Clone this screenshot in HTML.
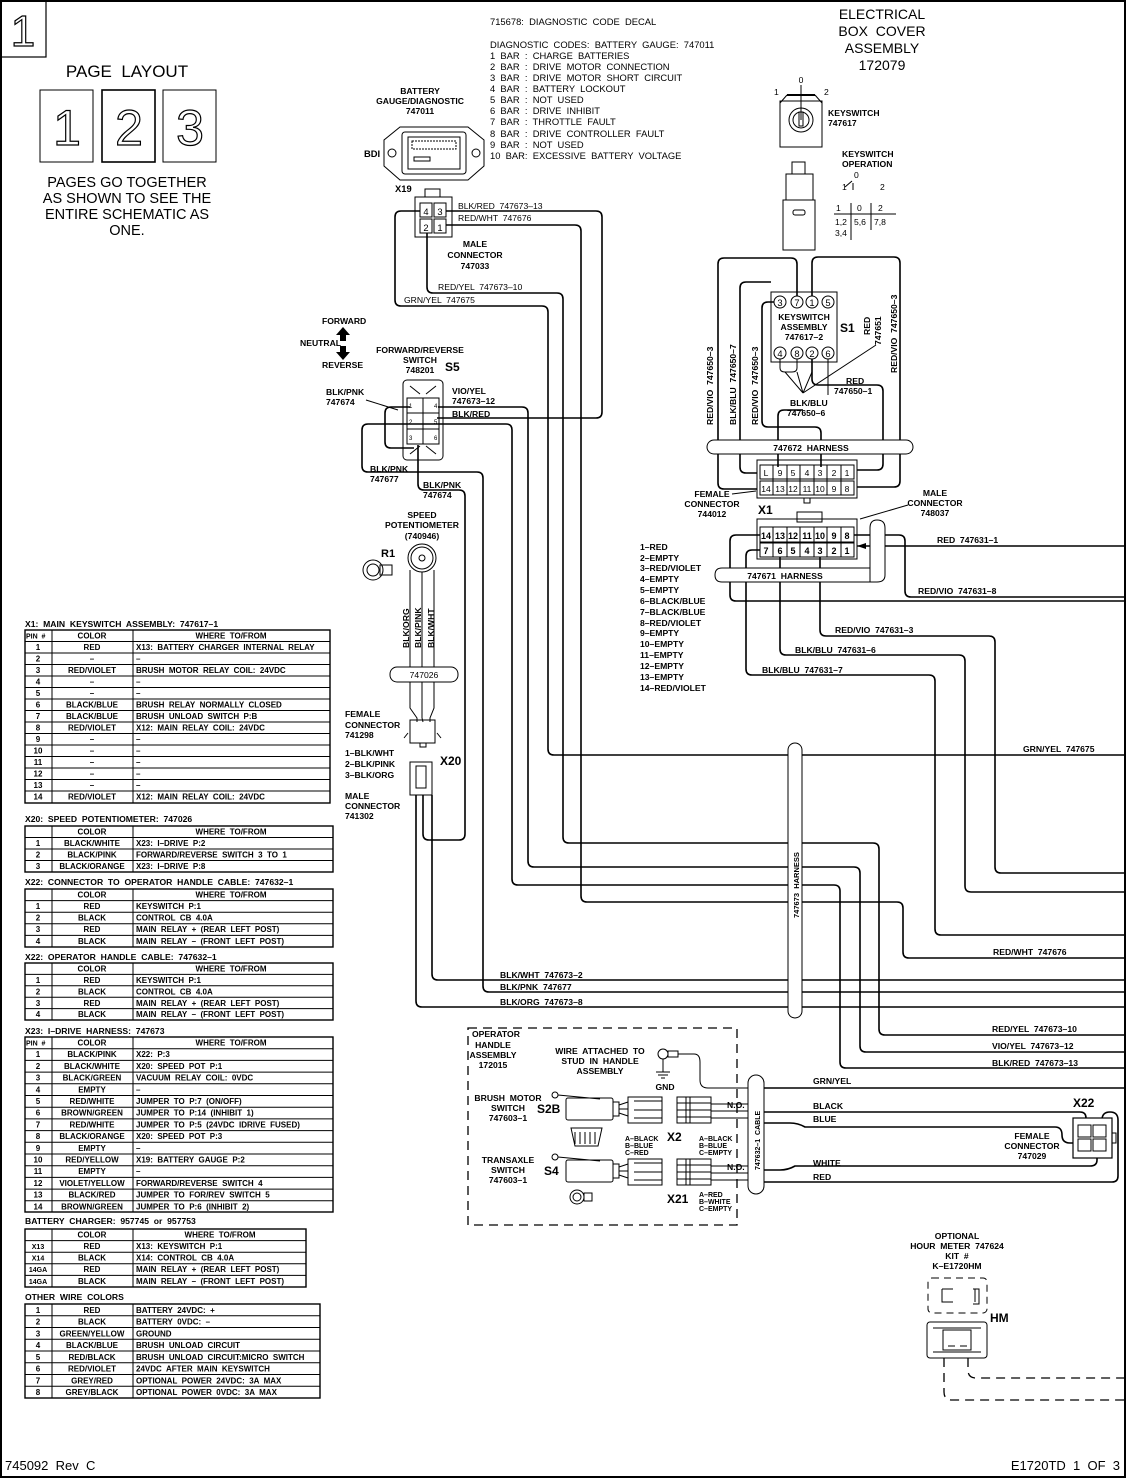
<!DOCTYPE html>
<html><head><meta charset="utf-8"><style>
html,body{margin:0;padding:0;background:#fff}
svg{display:block}
text{font-family:"Liberation Sans",sans-serif;fill:#000;white-space:pre}
.s{font-size:8.6px}
.m{font-size:9.4px}
.b{font-weight:bold}
.c{text-anchor:middle}
.w{fill:none;stroke:#000;stroke-width:1.6;stroke-linejoin:round}
.n{fill:none;stroke:#000;stroke-width:1}
.d{fill:none;stroke:#000;stroke-width:1.3;stroke-dasharray:9 6}
</style></head><body>
<svg width="1127" height="1479" viewBox="0 0 1127 1479" xmlns="http://www.w3.org/2000/svg" xml:space="preserve">
<rect x="1" y="1" width="1124" height="1476" fill="none" stroke="#000" stroke-width="2"/>
<rect x="1" y="1" width="45" height="56" fill="none" stroke="#000" stroke-width="1.2"/>
<text x="23" y="46" class="c" style="font-size:44px;fill:#fff;stroke:#000;stroke-width:1.2">1</text>

<!-- page layout -->
<text x="127" y="77" class="c" style="font-size:17px">PAGE  LAYOUT</text>
<rect x="40" y="90" width="53" height="72" class="n"/>
<rect x="102" y="90" width="53" height="72" fill="none" stroke="#000" stroke-width="1.6"/>
<rect x="163" y="90" width="53" height="72" class="n"/>
<g style="font-size:50px;fill:#fff;stroke:#000;stroke-width:1.2">
<text x="67" y="145" class="c" style="fill:#fff">1</text>
<text x="129" y="145" class="c" style="fill:#fff">2</text>
<text x="190" y="145" class="c" style="fill:#fff">3</text></g>
<g style="font-size:14.5px" class="c">
<text x="127" y="187" class="c">PAGES GO TOGETHER</text>
<text x="127" y="203" class="c">AS SHOWN TO SEE THE</text>
<text x="127" y="219" class="c">ENTIRE SCHEMATIC AS</text>
<text x="127" y="235" class="c">ONE.</text></g>

<!-- diagnostic codes -->
<g class="m">
<text x="490" y="25" class="m">715678:  DIAGNOSTIC  CODE  DECAL</text>
<text x="490" y="48" class="m">DIAGNOSTIC  CODES:  BATTERY  GAUGE:  747011</text>
<text x="490" y="59" class="m">1  BAR  :  CHARGE  BATTERIES</text>
<text x="490" y="70" class="m">2  BAR  :  DRIVE  MOTOR  CONNECTION</text>
<text x="490" y="81" class="m">3  BAR  :  DRIVE  MOTOR  SHORT  CIRCUIT</text>
<text x="490" y="92" class="m">4  BAR  :  BATTERY  LOCKOUT</text>
<text x="490" y="103" class="m">5  BAR  :  NOT  USED</text>
<text x="490" y="114" class="m">6  BAR  :  DRIVE  INHIBIT</text>
<text x="490" y="125" class="m">7  BAR  :  THROTTLE  FAULT</text>
<text x="490" y="137" class="m">8  BAR  :  DRIVE  CONTROLLER  FAULT</text>
<text x="490" y="148" class="m">9  BAR  :  NOT  USED</text>
<text x="490" y="159" class="m">10  BAR:  EXCESSIVE  BATTERY  VOLTAGE</text></g>

<!-- electrical box -->
<g style="font-size:14px">
<text x="882" y="19" class="c">ELECTRICAL</text>
<text x="882" y="36" class="c">BOX  COVER</text>
<text x="882" y="53" class="c">ASSEMBLY</text>
<text x="882" y="70" class="c">172079</text></g>

<!-- battery gauge -->
<text x="420" y="94" class="s c b">BATTERY</text>
<text x="420" y="104" class="s c b">GAUGE/DIAGNOSTIC</text>
<text x="420" y="114" class="s c b">747011</text>
<path d="M400,127 H468 L484,140 V166 L468,180 H400 L384,166 V140 Z" class="n" stroke-width="1.5"/>
<circle cx="392" cy="153" r="4" class="n"/><circle cx="476" cy="153" r="4" class="n"/>
<rect x="402" y="132" width="64" height="42" rx="3" class="n"/>
<rect x="408" y="137" width="52" height="32" class="n"/>
<rect x="412" y="141" width="44" height="8" class="n" stroke-dasharray="2 1"/>
<rect x="414" y="157" width="16" height="4" class="n"/>
<text x="364" y="157" class="m b">BDI</text>

<!-- keyswitch -->
<rect x="780" y="101" width="42" height="46" class="n"/>
<path d="M787,95 H815" stroke="#000" stroke-width="2"/>
<path d="M801,85 V120 M787,95 L780,103 M815,95 L822,103" class="n"/>
<circle cx="801" cy="120" r="12" class="n"/><circle cx="801" cy="120" r="8" class="n"/>
<rect x="799" y="112" width="4" height="14" class="n"/>
<text x="801" y="83" class="s c">0</text><text x="774" y="95" class="s">1</text><text x="824" y="95" class="s">2</text>
<text x="828" y="116" class="s b">KEYSWITCH</text><text x="828" y="126" class="s b">747617</text>
<rect x="792" y="162" width="13" height="12" class="n"/>
<rect x="786" y="174" width="27" height="26" class="n"/>
<rect x="783" y="200" width="32" height="50" class="n"/>
<rect x="793" y="210" width="12" height="5" rx="2" class="n"/>
<text x="842" y="157" class="s b">KEYSWITCH</text><text x="842" y="167" class="s b">OPERATION</text>
<text x="854" y="178" class="s">0</text><text x="842" y="190" class="s">1</text><text x="880" y="190" class="s">2</text>
<path d="M845,187 L852,181 M853,183 V190" class="n"/>
<text x="836" y="211" class="s">1</text><text x="857" y="211" class="s">0</text><text x="878" y="211" class="s">2</text>
<path d="M834,214 H896 M851,203 V240 M871,203 V230" class="n"/>
<text x="835" y="225" class="s">1,2</text><text x="854" y="225" class="s">5,6</text><text x="874" y="225" class="s">7,8</text>
<text x="835" y="236" class="s">3,4</text>

<!-- X19 -->
<text x="395" y="192" class="m b">X19</text>
<rect x="425" y="189" width="15" height="8" class="n"/>
<rect x="415" y="197" width="37" height="40" class="n" stroke-width="1.4"/>
<rect x="420" y="203" width="12" height="14" class="n"/><rect x="434" y="203" width="12" height="14" class="n"/>
<rect x="420" y="219" width="12" height="14" class="n"/><rect x="434" y="219" width="12" height="14" class="n"/>
<text x="426" y="215" class="m c">4</text><text x="440" y="215" class="m c">3</text>
<text x="426" y="231" class="m c">2</text><text x="440" y="231" class="m c">1</text>
<text x="458" y="209" class="s">BLK/RED  747673–13</text>
<text x="458" y="221" class="s">RED/WHT  747676</text>
<text x="475" y="247" class="s c b">MALE</text><text x="475" y="258" class="s c b">CONNECTOR</text><text x="475" y="269" class="s c b">747033</text>
<text x="438" y="290" class="s">RED/YEL  747673–10</text>
<text x="404" y="303" class="s">GRN/YEL  747675</text>

<!-- wires from X19 / S5 -->
<path class="w" d="M446,211 H596 Q602,211 602,217 V412 Q602,418 596,418 H437"/>
<path class="w" d="M446,225 H575 Q581,225 581,231 V896 Q581,902 587,902 H897 Q903,902 903,908 V952 Q903,958 909,958 H1125"/>
<path class="w" d="M420,211 H401 Q395,211 395,217 V300 Q395,306 401,306 H542 Q548,306 548,312 V749 Q548,755 554,755 H1125"/>
<path class="w" d="M427,233 V287 Q427,293 433,293 H557 Q563,293 563,299 V837 Q563,843 569,843 H873 Q879,843 879,849 V1029 Q879,1035 885,1035 H1125"/>
<path class="w" d="M438,407 H522 Q528,407 528,413 V861 Q528,867 534,867 H854 Q860,867 860,873 V1046 Q860,1052 866,1052 H1125"/>
<path class="w" d="M410,407 H391 Q385,407 385,413 V442 Q385,448 391,448 H414"/>
<path class="w" d="M362,466 V430 Q362,424 368,424 H506 Q512,424 512,430 V879 Q512,885 518,885 H834 Q840,885 840,891 V1062 Q840,1068 846,1068 H1125"/>
<path class="w" d="M362,466 Q362,472 368,472 H477 Q483,472 483,478 V986 Q483,992 489,992 H1125"/>
<path class="w" d="M418,445 V484 Q418,490 424,490 H459 Q465,490 465,496 V834 Q465,840 459,840 H429 Q423,840 423,834 V795"/>
<path class="w" d="M432,795 V974 Q432,980 438,980 H1125"/>
<path class="w" d="M416,795 V1001 Q416,1007 422,1007 H1125"/>

<!-- forward reverse -->
<text x="322" y="324" class="s b">FORWARD</text>
<text x="300" y="346" class="s b">NEUTRAL</text>
<text x="322" y="368" class="s b">REVERSE</text>
<path d="M343,327 L350,335 H346 V341 H340 V335 H336 Z M343,360 L350,352 H346 V346 H340 V352 H336 Z" fill="#000"/>
<text x="420" y="353" class="s c b">FORWARD/REVERSE</text>
<text x="420" y="363" class="s c b">SWITCH</text>
<text x="420" y="373" class="s c b">748201</text>
<text x="445" y="371" style="font-size:12px" class="b">S5</text>
<rect x="403" y="380" width="40" height="80" rx="4" class="n" stroke-width="1.3"/>
<path d="M410,386 L420,394 M436,386 L426,394 M410,454 L420,446 M436,454 L426,446" class="n"/>
<rect x="407" y="398" width="32" height="46" class="n"/>
<path d="M423,398 V444 M407,413 H439 M407,429 H439" class="n" stroke-width="1.5"/>
<text x="409" y="408" style="font-size:6px">1</text><text x="434" y="408" style="font-size:6px">4</text>
<text x="409" y="424" style="font-size:6px">2</text><text x="434" y="424" style="font-size:6px">5</text>
<text x="409" y="440" style="font-size:6px">3</text><text x="434" y="440" style="font-size:6px">6</text>
<text x="326" y="395" class="s b">BLK/PNK</text><text x="326" y="405" class="s b">747674</text>
<path d="M366,400 L398,410" class="n"/>
<text x="452" y="394" class="s b">VIO/YEL</text><text x="452" y="404" class="s b">747673–12</text>
<text x="452" y="417" class="s b">BLK/RED</text>
<text x="370" y="472" class="s b">BLK/PNK</text><text x="370" y="482" class="s b">747677</text>
<text x="423" y="488" class="s b">BLK/PNK</text><text x="423" y="498" class="s b">747674</text>

<!-- potentiometer -->
<text x="422" y="518" class="s c b">SPEED</text>
<text x="422" y="528" class="s c b">POTENTIOMETER</text>
<text x="422" y="539" class="s c b">(740946)</text>
<text x="381" y="557" style="font-size:11px" class="b">R1</text>
<circle cx="422" cy="558" r="14" class="n" stroke-width="1.3"/><circle cx="422" cy="558" r="11" class="n"/>
<circle cx="422" cy="558" r="3" class="n"/>
<circle cx="373" cy="570" r="10" class="n"/><circle cx="373" cy="570" r="6" class="n"/>
<rect x="380" y="565" width="12" height="10" class="n"/>
<path class="n" stroke-width="1.3" d="M410,570 V708 L417,718 V722 M422,572 V718 L423,722 M434,570 V708 L430,718 V722"/>
<g class="s b">
<text transform="translate(409,648) rotate(-90)">BLK/ORG</text>
<text transform="translate(421,648) rotate(-90)">BLK/PINK</text>
<text transform="translate(434,648) rotate(-90)">BLK/WHT</text></g>
<rect x="390" y="667" width="68" height="15" rx="7" fill="#fff" stroke="#000"/>
<text x="424" y="678" class="s c">747026</text>
<rect x="410" y="720" width="25" height="23" class="n" stroke-width="1.3"/>
<rect x="420" y="743" width="6" height="4" class="n"/>
<path d="M408,733 L404,738 M437,733 L441,738" class="n"/>
<rect x="410" y="762" width="22" height="33" class="n" stroke-width="1.3"/>
<rect x="416" y="766" width="10" height="22" class="n"/>
<text x="440" y="765" style="font-size:12px" class="b">X20</text>
<g class="s b">
<text x="345" y="717">FEMALE</text><text x="345" y="728">CONNECTOR</text><text x="345" y="738">741298</text>
<text x="345" y="756">1–BLK/WHT</text><text x="345" y="767">2–BLK/PINK</text><text x="345" y="778">3–BLK/ORG</text>
<text x="345" y="799">MALE</text><text x="345" y="809">CONNECTOR</text><text x="345" y="819">741302</text></g>

<!-- keyswitch assembly S1 -->
<rect x="771" y="292" width="66" height="70" class="n" stroke-width="1.3"/>
<g class="n"><circle cx="780" cy="302" r="6"/><circle cx="797" cy="302" r="6"/><circle cx="812" cy="302" r="6"/><circle cx="828" cy="302" r="6"/>
<circle cx="780" cy="353" r="6"/><circle cx="797" cy="353" r="6"/><circle cx="812" cy="353" r="6"/><circle cx="828" cy="353" r="6"/></g>
<g class="m"><text x="780" y="306" class="c">3</text><text x="797" y="306" class="c">7</text><text x="812" y="306" class="c">1</text><text x="828" y="306" class="c">5</text>
<text x="780" y="357" class="c">4</text><text x="797" y="357" class="c">8</text><text x="812" y="357" class="c">2</text><text x="828" y="357" class="c">6</text></g>
<text x="804" y="320" class="s c b">KEYSWITCH</text><text x="804" y="330" class="s c b">ASSEMBLY</text><text x="804" y="340" class="s c b">747617–2</text>
<text x="840" y="332" style="font-size:12px" class="b">S1</text>
<path class="w" stroke-width="1.3" d="M757,489 H724 Q718,489 718,483 V264 Q718,258 724,258 H791 Q797,258 797,264 V296"/>
<path class="w" stroke-width="1.3" d="M757,473 H746 Q740,473 740,467 V288 Q740,282 746,282 H771"/>
<path class="w" stroke-width="1.3" d="M812,296 V263 Q812,257 818,257 H894 Q900,257 900,263 V481 Q900,487 894,487 H857"/>
<path class="w" stroke-width="1.3" d="M774,302 H768 Q762,302 762,308 V421 Q762,427 768,427 H815 Q821,427 821,433 V467"/>
<path class="w" stroke-width="1.3" d="M812,359 V379 Q812,385 818,385 H877 Q883,385 883,391 V464 Q883,470 877,470 H857"/>
<path class="w" stroke-width="1.3" d="M778,467 V416 Q778,410 784,410 H803"/>
<path class="n" d="M780,359 V368 Q780,372 785,372 H792 Q797,372 797,368 V359 M803,393 L785,372 M803,393 L797,372 M803,393 L876,345 M828,359 V395 M812,372 L803,393"/>
<g class="s b">
<text transform="translate(713,425) rotate(-90)">RED/VIO  747650–3</text>
<text transform="translate(736,425) rotate(-90)">BLK/BLU  747650–7</text>
<text transform="translate(758,425) rotate(-90)">RED/VIO  747650–3</text>
<text transform="translate(897,373) rotate(-90)">RED/VIO  747650–3</text>
<text transform="translate(870,335) rotate(-90)">RED</text>
<text transform="translate(881,345) rotate(-90)">747651</text>
<text x="846" y="384">RED</text><text x="834" y="394">747650–1</text>
<text x="790" y="406">BLK/BLU</text><text x="787" y="416">747650–6</text></g>
<rect x="707" y="440" width="206" height="14" rx="7" fill="#fff" stroke="#000"/>
<text x="811" y="451" class="s c b">747672  HARNESS</text>
<!-- female connector 744012 -->
<rect x="757" y="460" width="100" height="38" class="n" stroke-width="1.3"/>
<g class="n">
<rect x="760" y="465" width="94" height="14"/><rect x="760" y="481" width="94" height="14"/>
<path d="M773,465 V495 M787,465 V495 M800,465 V495 M814,465 V495 M827,465 V495 M841,465 V495"/>
<rect x="804" y="498" width="6" height="5"/></g>
<g style="font-size:8.5px">
<text x="766" y="476" class="c">L</text><text x="780" y="476" class="c">9</text><text x="793" y="476" class="c">5</text><text x="807" y="476" class="c">4</text><text x="820" y="476" class="c">3</text><text x="834" y="476" class="c">2</text><text x="847" y="476" class="c">1</text>
<text x="766" y="492" class="c">14</text><text x="780" y="492" class="c">13</text><text x="793" y="492" class="c">12</text><text x="807" y="492" class="c">11</text><text x="820" y="492" class="c">10</text><text x="834" y="492" class="c">9</text><text x="847" y="492" class="c">8</text></g>
<text x="712" y="497" class="s c b">FEMALE</text><text x="712" y="507" class="s c b">CONNECTOR</text><text x="712" y="517" class="s c b">744012</text>
<path d="M732,494 L756,491" class="n"/>
<text x="758" y="514" style="font-size:12px" class="b">X1</text>
<text x="935" y="496" class="s c b">MALE</text><text x="935" y="506" class="s c b">CONNECTOR</text><text x="935" y="516" class="s c b">748037</text>
<path d="M908,505 L860,519" class="n"/>

<!-- X1 male -->
<rect x="797" y="512" width="25" height="10" class="n"/>
<rect x="757" y="519" width="100" height="40" class="n" stroke-width="1.3"/>
<g class="n"><rect x="760" y="527" width="94" height="15"/><rect x="760" y="543" width="94" height="14"/>
<path d="M773,527 V557 M787,527 V557 M800,527 V557 M814,527 V557 M827,527 V557 M841,527 V557"/></g>
<g style="font-size:9px" class="b">
<text x="766" y="539" class="c">14</text><text x="780" y="539" class="c">13</text><text x="793" y="539" class="c">12</text><text x="807" y="539" class="c">11</text><text x="820" y="539" class="c">10</text><text x="834" y="539" class="c">9</text><text x="847" y="539" class="c">8</text>
<text x="766" y="554" class="c">7</text><text x="780" y="554" class="c">6</text><text x="793" y="554" class="c">5</text><text x="807" y="554" class="c">4</text><text x="820" y="554" class="c">3</text><text x="834" y="554" class="c">2</text><text x="847" y="554" class="c">1</text></g>
<path class="w" d="M1125,546 H857"/>
<path class="w" d="M854,535 H899 Q905,535 905,541 V591 Q905,597 911,597 H1125"/>
<path class="w" d="M760,535 H736 Q730,535 730,541 V595 Q730,601 736,601 H1125"/>
<path class="w" d="M760,550 H752 Q746,550 746,556 V669 Q746,675 752,675 H929 Q935,675 935,681 V929 Q935,935 941,935 H1125"/>
<path class="w" d="M780,557 V649 Q780,655 786,655 H959 Q965,655 965,661 V886 Q965,892 971,892 H1125"/>
<path class="w" d="M820,557 V630 Q820,636 826,636 H989 Q995,636 995,642 V867 Q995,873 1001,873 H1125"/>
<path d="M857,546 L866,543 V549 Z" fill="#000"/>
<path d="M870,582 V528 Q870,520 877,520 Q885,520 885,528 V575 Q885,582 877,582 H722 Q715,582 715,575 Q715,568 722,568 H870" fill="#fff" stroke="#000"/>
<text x="785" y="579" class="s c b">747671  HARNESS</text>
<g class="s b">
<text x="640" y="550">1–RED</text><text x="640" y="561">2–EMPTY</text><text x="640" y="571">3–RED/VIOLET</text><text x="640" y="582">4–EMPTY</text><text x="640" y="593">5–EMPTY</text><text x="640" y="604">6–BLACK/BLUE</text><text x="640" y="615">7–BLACK/BLUE</text><text x="640" y="626">8–RED/VIOLET</text><text x="640" y="636">9–EMPTY</text><text x="640" y="647">10–EMPTY</text><text x="640" y="658">11–EMPTY</text><text x="640" y="669">12–EMPTY</text><text x="640" y="680">13–EMPTY</text><text x="640" y="691">14–RED/VIOLET</text>
<text x="937" y="543">RED  747631–1</text>
<text x="918" y="594">RED/VIO  747631–8</text>
<text x="835" y="633">RED/VIO  747631–3</text>
<text x="795" y="653">BLK/BLU  747631–6</text>
<text x="762" y="673">BLK/BLU  747631–7</text>
<text x="1023" y="752">GRN/YEL  747675</text>
<text x="993" y="955">RED/WHT  747676</text>
<text x="500" y="978">BLK/WHT  747673–2</text>
<text x="500" y="990">BLK/PNK  747677</text>
<text x="500" y="1005">BLK/ORG  747673–8</text>
<text x="992" y="1032">RED/YEL  747673–10</text>
<text x="992" y="1049">VIO/YEL  747673–12</text>
<text x="992" y="1066">BLK/RED  747673–13</text></g>
<rect x="788" y="743" width="14" height="275" rx="7" fill="#fff" stroke="#000"/>
<text transform="translate(799,918) rotate(-90)" style="font-size:7.5px" class="b">747673  HARNESS</text>

<!-- operator handle -->
<rect x="468" y="1028" width="269" height="197" class="d"/>
<g class="s b">
<text x="472" y="1037">OPERATOR</text><text x="493" y="1048" class="c">HANDLE</text><text x="493" y="1058" class="c">ASSEMBLY</text><text x="493" y="1068" class="c">172015</text>
<text x="600" y="1054" class="c">WIRE  ATTACHED  TO</text><text x="600" y="1064" class="c">STUD  IN  HANDLE</text><text x="600" y="1074" class="c">ASSEMBLY</text>
<text x="665" y="1090" class="c">GND</text>
<text x="508" y="1101" class="c">BRUSH  MOTOR</text><text x="508" y="1111" class="c">SWITCH</text><text x="508" y="1121" class="c">747603–1</text>
<text x="508" y="1163" class="c">TRANSAXLE</text><text x="508" y="1173" class="c">SWITCH</text><text x="508" y="1183" class="c">747603–1</text>
<text x="625" y="1141" style="font-size:7px">A–BLACK</text><text x="625" y="1148" style="font-size:7px">B–BLUE</text><text x="625" y="1155" style="font-size:7px">C–RED</text>
<text x="699" y="1141" style="font-size:7px">A–BLACK</text><text x="699" y="1148" style="font-size:7px">B–BLUE</text><text x="699" y="1155" style="font-size:7px">C–EMPTY</text>
<text x="699" y="1197" style="font-size:7px">A–RED</text><text x="699" y="1204" style="font-size:7px">B–WHITE</text><text x="699" y="1211" style="font-size:7px">C–EMPTY</text>
<text x="727" y="1108">N.O.</text><text x="727" y="1170">N.O.</text></g>
<text x="537" y="1113" style="font-size:12px" class="b">S2B</text>
<text x="544" y="1175" style="font-size:12px" class="b">S4</text>
<text x="667" y="1141" style="font-size:12px" class="b">X2</text>
<text x="667" y="1203" style="font-size:12px" class="b">X21</text>
<circle cx="663" cy="1054" r="5" class="n"/><rect x="668" y="1051" width="10" height="6" class="n"/>
<path class="n" d="M663,1059 V1072 M656,1072 H670 M658,1075 H668 M661,1078 H665 M678,1054 H694 Q700,1054 700,1062 V1080 Q700,1088 708,1088 H750"/>
<!-- switches -->
<g class="n" stroke-width="1.2">
<rect x="566" y="1098" width="47" height="22" rx="2"/><circle cx="555" cy="1095" r="3"/><path d="M558,1095 L600,1099"/>
<rect x="613" y="1102" width="6" height="14"/><path d="M619,1105 L628,1102 M619,1109 L628,1109 M619,1113 L628,1116"/>
<rect x="628" y="1097" width="34" height="26"/><path d="M634,1101 H662 M634,1110 H662 M634,1118 H662"/>
<rect x="677" y="1097" width="34" height="26"/><path d="M677,1103 H711 M677,1110 H711 M677,1117 H711 M686,1097 V1123 M690,1097 V1123"/>
<path d="M711,1104 H760 M711,1111 H760 M711,1118 H750"/>
<path d="M571,1128 H602 L598,1146 H575 Z M575,1132 V1144 M580,1132 V1144 M585,1132 V1144 M590,1132 V1144 M595,1132 V1144"/>
<rect x="566" y="1160" width="47" height="22" rx="2"/><circle cx="555" cy="1157" r="3"/><path d="M558,1157 L600,1161"/>
<rect x="613" y="1164" width="6" height="14"/><path d="M619,1167 L628,1164 M619,1171 L628,1171 M619,1175 L628,1178"/>
<rect x="628" y="1159" width="34" height="26"/><path d="M634,1163 H662 M634,1172 H662 M634,1180 H662"/>
<rect x="677" y="1159" width="34" height="26"/><path d="M677,1165 H711 M677,1172 H711 M677,1179 H711 M686,1159 V1185 M690,1159 V1185"/>
<path d="M711,1166 H760 M711,1173 H760 M711,1180 H750"/>
<circle cx="577" cy="1197" r="7"/><circle cx="577" cy="1197" r="4"/><rect x="584" y="1193" width="8" height="8"/></g>
<rect x="748" y="1075" width="16" height="119" rx="8" fill="#fff" stroke="#000"/>
<text transform="translate(760,1170) rotate(-90)" style="font-size:7px" class="b">747632–1  CABLE</text>
<!-- right cable wires -->
<path class="w" stroke-width="1.2" d="M764,1088 H1125"/>
<path class="w" stroke-width="1.2" d="M764,1112 H1080 Q1086,1112 1086,1118 V1127"/>
<path class="w" stroke-width="1.2" d="M764,1123 H790 Q798,1123 805,1127 H1055 Q1062,1127 1062,1135 Q1062,1143 1070,1143 H1080"/>
<path class="w" stroke-width="1.2" d="M764,1170 H780 Q788,1170 795,1166 H1090 Q1097,1166 1097,1160 V1150"/>
<path class="w" stroke-width="1.2" d="M764,1182 H1112 Q1118,1182 1118,1176 V1120 Q1118,1112 1110,1112 Q1102,1112 1102,1120"/>
<g class="s b"><text x="813" y="1084">GRN/YEL</text><text x="813" y="1109">BLACK</text><text x="813" y="1122">BLUE</text><text x="813" y="1166">WHITE</text><text x="813" y="1180">RED</text>
<text x="1032" y="1139" class="c">FEMALE</text><text x="1032" y="1149" class="c">CONNECTOR</text><text x="1032" y="1159" class="c">747029</text></g>
<text x="1073" y="1107" style="font-size:12px" class="b">X22</text>
<rect x="1073" y="1118" width="39" height="40" fill="#fff" stroke="#000" stroke-width="1.2"/>
<g class="n"><rect x="1078" y="1125" width="13" height="12"/><rect x="1093" y="1125" width="13" height="12"/><rect x="1078" y="1139" width="13" height="12"/><rect x="1093" y="1139" width="13" height="12"/><rect x="1112" y="1133" width="4" height="10"/></g>

<!-- hour meter -->
<g class="s b"><text x="957" y="1239" class="c">OPTIONAL</text><text x="957" y="1249" class="c">HOUR  METER  747624</text><text x="957" y="1259" class="c">KIT  #</text><text x="957" y="1269" class="c">K–E1720HM</text></g>
<rect x="928" y="1278" width="59" height="35" rx="4" fill="none" stroke="#000" stroke-dasharray="7 5"/>
<path class="n" stroke-width="1.5" d="M942,1289 V1302 H953 M942,1289 H953 M973,1289 H979 V1304 H973 M975,1289 V1302"/>
<text x="990" y="1322" style="font-size:12px" class="b">HM</text>
<rect x="927" y="1322" width="60" height="36" rx="3" class="n" stroke-width="1.3"/>
<path class="n" d="M933,1328 H981 M933,1352 H981 M943,1330 H971 V1350 H943 Z M948,1346 H955 M960,1346 H967"/>
<path class="d" d="M944,1358 V1392 Q944,1400 952,1400 H1125 M968,1358 V1370 Q968,1378 976,1378 H1125"/>

<!-- tables -->
<g class="s b">
<text x="25" y="627">X1:  MAIN  KEYSWITCH  ASSEMBLY:  747617–1</text>
<text x="25" y="822">X20:  SPEED  POTENTIOMETER:  747026</text>
<text x="25" y="885">X22:  CONNECTOR  TO  OPERATOR  HANDLE  CABLE:  747632–1</text>
<text x="25" y="960">X22:  OPERATOR  HANDLE  CABLE:  747632–1</text>
<text x="25" y="1034">X23:  I–DRIVE  HARNESS:  747673</text>
<text x="25" y="1224">BATTERY  CHARGER:  957745  or  957753</text>
<text x="25" y="1300">OTHER  WIRE  COLORS</text></g>

<g fill="none" stroke="#000" stroke-width="1">
<rect x="25" y="630" width="305" height="173" stroke-width="1.4"/>
<path d="M52,630 V803 M133,630 V803 M25,641.5 H330 M25,653 H330 M25,664.5 H330 M25,676 H330 M25,687.5 H330 M25,699 H330 M25,710.5 H330 M25,722 H330 M25,733.5 H330 M25,745 H330 M25,756.5 H330 M25,768 H330 M25,779.5 H330 M25,791 H330"/>
<rect x="25" y="826" width="308" height="46" stroke-width="1.4"/>
<path d="M52,826 V872 M133,826 V872 M25,837.5 H333 M25,849 H333 M25,860.5 H333"/>
<rect x="25" y="889" width="308" height="58" stroke-width="1.4"/>
<path d="M52,889 V947 M133,889 V947 M25,900.6 H333 M25,912.2 H333 M25,923.8 H333 M25,935.4 H333"/>
<rect x="25" y="963" width="308" height="57" stroke-width="1.4"/>
<path d="M52,963 V1020 M133,963 V1020 M25,974.4 H333 M25,985.8 H333 M25,997.2 H333 M25,1008.6 H333"/>
<rect x="25" y="1037" width="308" height="175" stroke-width="1.4"/>
<path d="M52,1037 V1212 M133,1037 V1212 M25,1048.7 H333 M25,1060.4 H333 M25,1072.1 H333 M25,1083.8 H333 M25,1095.5 H333 M25,1107.2 H333 M25,1118.9 H333 M25,1130.6 H333 M25,1142.3 H333 M25,1154 H333 M25,1165.7 H333 M25,1177.4 H333 M25,1189.1 H333 M25,1200.8 H333"/>
<rect x="25" y="1229" width="281" height="58" stroke-width="1.4"/>
<path d="M52,1229 V1287 M133,1229 V1287 M25,1240.6 H306 M25,1252.2 H306 M25,1263.8 H306 M25,1275.4 H306"/>
<rect x="25" y="1304" width="295" height="94" stroke-width="1.4"/>
<path d="M52,1304 V1398 M133,1304 V1398 M25,1315.7 H320 M25,1327.5 H320 M25,1339.2 H320 M25,1351 H320 M25,1362.7 H320 M25,1374.5 H320 M25,1386.2 H320"/>
</g>

<g style="font-size:8px" class="b">
<text x="26" y="638.5" style="font-size:7px">PIN  #</text><text x="92" y="638.5" class="c">COLOR</text><text x="231" y="638.5" class="c">WHERE  TO/FROM</text>
<text x="38" y="650" class="c">1</text><text x="92" y="650" class="c">RED</text><text x="136" y="650">X13:  BATTERY  CHARGER  INTERNAL  RELAY</text>
<text x="38" y="661.5" class="c">2</text><text x="92" y="661.5" class="c">–</text><text x="136" y="661.5">–</text>
<text x="38" y="673" class="c">3</text><text x="92" y="673" class="c">RED/VIOLET</text><text x="136" y="673">BRUSH  MOTOR  RELAY  COIL:  24VDC</text>
<text x="38" y="684.5" class="c">4</text><text x="92" y="684.5" class="c">–</text><text x="136" y="684.5">–</text>
<text x="38" y="696" class="c">5</text><text x="92" y="696" class="c">–</text><text x="136" y="696">–</text>
<text x="38" y="707.5" class="c">6</text><text x="92" y="707.5" class="c">BLACK/BLUE</text><text x="136" y="707.5">BRUSH  RELAY  NORMALLY  CLOSED</text>
<text x="38" y="719" class="c">7</text><text x="92" y="719" class="c">BLACK/BLUE</text><text x="136" y="719">BRUSH  UNLOAD  SWITCH  P:B</text>
<text x="38" y="730.5" class="c">8</text><text x="92" y="730.5" class="c">RED/VIOLET</text><text x="136" y="730.5">X12:  MAIN  RELAY  COIL:  24VDC</text>
<text x="38" y="742" class="c">9</text><text x="92" y="742" class="c">–</text><text x="136" y="742">–</text>
<text x="38" y="753.5" class="c">10</text><text x="92" y="753.5" class="c">–</text><text x="136" y="753.5">–</text>
<text x="38" y="765" class="c">11</text><text x="92" y="765" class="c">–</text><text x="136" y="765">–</text>
<text x="38" y="776.5" class="c">12</text><text x="92" y="776.5" class="c">–</text><text x="136" y="776.5">–</text>
<text x="38" y="788" class="c">13</text><text x="92" y="788" class="c">–</text><text x="136" y="788">–</text>
<text x="38" y="799.5" class="c">14</text><text x="92" y="799.5" class="c">RED/VIOLET</text><text x="136" y="799.5">X12:  MAIN  RELAY  COIL:  24VDC</text>
<text x="92" y="834.5" class="c">COLOR</text><text x="231" y="834.5" class="c">WHERE  TO/FROM</text>
<text x="38" y="846" class="c">1</text><text x="92" y="846" class="c">BLACK/WHITE</text><text x="136" y="846">X23:  I–DRIVE  P:2</text>
<text x="38" y="857.5" class="c">2</text><text x="92" y="857.5" class="c">BLACK/PINK</text><text x="136" y="857.5">FORWARD/REVERSE  SWITCH  3  TO  1</text>
<text x="38" y="869" class="c">3</text><text x="92" y="869" class="c">BLACK/ORANGE</text><text x="136" y="869">X23:  I–DRIVE  P:8</text>
<text x="92" y="897.5" class="c">COLOR</text><text x="231" y="897.5" class="c">WHERE  TO/FROM</text>
<text x="38" y="909" class="c">1</text><text x="92" y="909" class="c">RED</text><text x="136" y="909">KEYSWITCH  P:1</text>
<text x="38" y="920.6" class="c">2</text><text x="92" y="920.6" class="c">BLACK</text><text x="136" y="920.6">CONTROL  CB  4.0A</text>
<text x="38" y="932.2" class="c">3</text><text x="92" y="932.2" class="c">RED</text><text x="136" y="932.2">MAIN  RELAY  +  (REAR  LEFT  POST)</text>
<text x="38" y="943.8" class="c">4</text><text x="92" y="943.8" class="c">BLACK</text><text x="136" y="943.8">MAIN  RELAY  –  (FRONT  LEFT  POST)</text>
<text x="92" y="971.5" class="c">COLOR</text><text x="231" y="971.5" class="c">WHERE  TO/FROM</text>
<text x="38" y="983" class="c">1</text><text x="92" y="983" class="c">RED</text><text x="136" y="983">KEYSWITCH  P:1</text>
<text x="38" y="994.4" class="c">2</text><text x="92" y="994.4" class="c">BLACK</text><text x="136" y="994.4">CONTROL  CB  4.0A</text>
<text x="38" y="1005.8" class="c">3</text><text x="92" y="1005.8" class="c">RED</text><text x="136" y="1005.8">MAIN  RELAY  +  (REAR  LEFT  POST)</text>
<text x="38" y="1017.2" class="c">4</text><text x="92" y="1017.2" class="c">BLACK</text><text x="136" y="1017.2">MAIN  RELAY  –  (FRONT  LEFT  POST)</text>
<text x="26" y="1045.5" style="font-size:7px">PIN  #</text><text x="92" y="1045.5" class="c">COLOR</text><text x="231" y="1045.5" class="c">WHERE  TO/FROM</text>
<text x="38" y="1057.2" class="c">1</text><text x="92" y="1057.2" class="c">BLACK/PINK</text><text x="136" y="1057.2">X22:  P:3</text>
<text x="38" y="1068.9" class="c">2</text><text x="92" y="1068.9" class="c">BLACK/WHITE</text><text x="136" y="1068.9">X20:  SPEED  POT  P:1</text>
<text x="38" y="1080.6" class="c">3</text><text x="92" y="1080.6" class="c">BLACK/GREEN</text><text x="136" y="1080.6">VACUUM  RELAY  COIL:  0VDC</text>
<text x="38" y="1092.3" class="c">4</text><text x="92" y="1092.3" class="c">EMPTY</text><text x="136" y="1092.3">–</text>
<text x="38" y="1104" class="c">5</text><text x="92" y="1104" class="c">RED/WHITE</text><text x="136" y="1104">JUMPER  TO  P:7  (ON/OFF)</text>
<text x="38" y="1115.7" class="c">6</text><text x="92" y="1115.7" class="c">BROWN/GREEN</text><text x="136" y="1115.7">JUMPER  TO  P:14  (INHIBIT  1)</text>
<text x="38" y="1127.4" class="c">7</text><text x="92" y="1127.4" class="c">RED/WHITE</text><text x="136" y="1127.4">JUMPER  TO  P:5  (24VDC  IDRIVE  FUSED)</text>
<text x="38" y="1139.1" class="c">8</text><text x="92" y="1139.1" class="c">BLACK/ORANGE</text><text x="136" y="1139.1">X20:  SPEED  POT  P:3</text>
<text x="38" y="1150.8" class="c">9</text><text x="92" y="1150.8" class="c">EMPTY</text><text x="136" y="1150.8">–</text>
<text x="38" y="1162.5" class="c">10</text><text x="92" y="1162.5" class="c">RED/YELLOW</text><text x="136" y="1162.5">X19:  BATTERY  GAUGE  P:2</text>
<text x="38" y="1174.2" class="c">11</text><text x="92" y="1174.2" class="c">EMPTY</text><text x="136" y="1174.2">–</text>
<text x="38" y="1185.9" class="c">12</text><text x="92" y="1185.9" class="c">VIOLET/YELLOW</text><text x="136" y="1185.9">FORWARD/REVERSE  SWITCH  4</text>
<text x="38" y="1197.6" class="c">13</text><text x="92" y="1197.6" class="c">BLACK/RED</text><text x="136" y="1197.6">JUMPER  TO  FOR/REV  SWITCH  5</text>
<text x="38" y="1209.3" class="c">14</text><text x="92" y="1209.3" class="c">BROWN/GREEN</text><text x="136" y="1209.3">JUMPER  TO  P:6  (INHIBIT  2)</text>
<text x="92" y="1237.5" class="c">COLOR</text><text x="220" y="1237.5" class="c">WHERE  TO/FROM</text>
<text x="38" y="1249" class="c" style="font-size:7px">X13</text><text x="92" y="1249" class="c">RED</text><text x="136" y="1249">X13:  KEYSWITCH  P:1</text>
<text x="38" y="1260.6" class="c" style="font-size:7px">X14</text><text x="92" y="1260.6" class="c">BLACK</text><text x="136" y="1260.6">X14:  CONTROL  CB  4.0A</text>
<text x="38" y="1272.2" class="c" style="font-size:7px">14GA</text><text x="92" y="1272.2" class="c">RED</text><text x="136" y="1272.2">MAIN  RELAY  +  (REAR  LEFT  POST)</text>
<text x="38" y="1283.8" class="c" style="font-size:7px">14GA</text><text x="92" y="1283.8" class="c">BLACK</text><text x="136" y="1283.8">MAIN  RELAY  –  (FRONT  LEFT  POST)</text>
<text x="38" y="1313" class="c">1</text><text x="92" y="1313" class="c">RED</text><text x="136" y="1313">BATTERY  24VDC:  +</text>
<text x="38" y="1324.7" class="c">2</text><text x="92" y="1324.7" class="c">BLACK</text><text x="136" y="1324.7">BATTERY  0VDC:  –</text>
<text x="38" y="1336.5" class="c">3</text><text x="92" y="1336.5" class="c">GREEN/YELLOW</text><text x="136" y="1336.5">GROUND</text>
<text x="38" y="1348.2" class="c">4</text><text x="92" y="1348.2" class="c">BLACK/BLUE</text><text x="136" y="1348.2">BRUSH  UNLOAD  CIRCUIT</text>
<text x="38" y="1360" class="c">5</text><text x="92" y="1360" class="c">RED/BLACK</text><text x="136" y="1360">BRUSH  UNLOAD  CIRCUIT:MICRO  SWITCH</text>
<text x="38" y="1371.7" class="c">6</text><text x="92" y="1371.7" class="c">RED/VIOLET</text><text x="136" y="1371.7">24VDC  AFTER  MAIN  KEYSWITCH</text>
<text x="38" y="1383.5" class="c">7</text><text x="92" y="1383.5" class="c">GREY/RED</text><text x="136" y="1383.5">OPTIONAL  POWER  24VDC:  3A  MAX</text>
<text x="38" y="1395.2" class="c">8</text><text x="92" y="1395.2" class="c">GREY/BLACK</text><text x="136" y="1395.2">OPTIONAL  POWER  0VDC:  3A  MAX</text>
</g>

<text x="5" y="1470" style="font-size:13px">745092  Rev  C</text>
<text x="1120" y="1470" style="font-size:13px;text-anchor:end">E1720TD  1  OF  3</text>
</svg>
</body></html>
